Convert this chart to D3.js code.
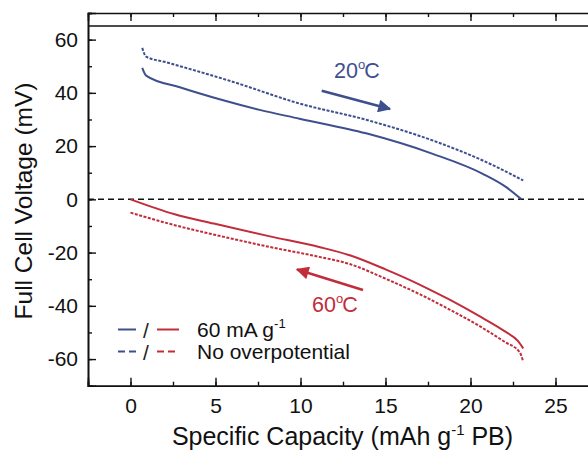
<!DOCTYPE html>
<html>
<head>
<meta charset="utf-8">
<script src="https://cdn.jsdelivr.net/npm/d3@7/dist/d3.min.js"></script>
<style>
  html, body { margin: 0; padding: 0; background: #fff; }
  svg { display: block; font-family: "Liberation Sans", Arial, sans-serif; }
</style>
</head>
<body>
<svg id="chart" width="588" height="452"></svg>
<script>
// Full-cell voltage vs. specific capacity at two temperatures
const xTicks = [0, 5, 10, 15, 20, 25];
const yTicks = [-60, -40, -20, 0, 20, 40, 60];

// 20 °C, 60 mA g-1
const blueMeasured = [[0.69, 49.4], [0.92, 46.5], [2.9, 42.1], [5.4, 37.3], [7.6, 33.6], [9.94, 30.3],
  [13.86, 24.8], [17.78, 17.1], [20.72, 9.6], [22.1, 4.6], [23.0, 0]];
// 20 °C, no overpotential
const blueIdeal = [[0.69, 56.9], [0.92, 53.6], [2.1, 51.5], [6.0, 44.2], [9.94, 36.0], [13.86, 29.9],
  [17.78, 22.1], [20.72, 14.6], [23.1, 7.1]];
// 60 °C, 60 mA g-1
const redMeasured = [[0, 0], [2.6, -5.6], [4.9, -9.1], [8.2, -13.9], [11.1, -17.9], [12.9, -21],
  [15, -26.3], [17, -32], [18.8, -37.8], [20.5, -43.8], [22, -49.5], [22.8, -53.3], [23.1, -56]];
// 60 °C, no overpotential
const redIdeal = [[0, -5], [2.6, -9.7], [5.5, -14.1], [8.2, -17.9], [11.1, -21.6], [12.9, -24.3],
  [15, -29.8], [17, -35.6], [18.8, -41.5], [20.5, -47.5], [22, -53.5], [22.9, -57.5], [23.1, -61]];

const BLUE = "#3e4f8e";
const RED = "#c22d3a";

const svg = d3.select("#chart");
const plotLeft = 88, plotTop = 13, plotBottom = 385.7;
const x = d3.scaleLinear().domain([-2.5, 27.5]).range([plotLeft, plotLeft + 30 * 17]);
const y = d3.scaleLinear().domain([-70, 70]).range([plotBottom, plotTop]);

const plot = svg.append("g");

// zero reference line
plot.append("line")
  .attr("x1", x(-2.5)).attr("x2", x(27.5))
  .attr("y1", y(0)).attr("y2", y(0))
  .attr("stroke", "#111").attr("stroke-width", 1.5)
  .attr("stroke-dasharray", "6,4");

const line = d3.line().x(d => x(d[0])).y(d => y(d[1])).curve(d3.curveMonotoneX);

const series = [
  { data: blueIdeal, color: BLUE, dash: "3,1.5" },
  { data: blueMeasured, color: BLUE, dash: null },
  { data: redIdeal, color: RED, dash: "3,1.5" },
  { data: redMeasured, color: RED, dash: null }
];
series.forEach(s => {
  plot.append("path")
    .attr("d", line(s.data))
    .attr("fill", "none")
    .attr("stroke", s.color)
    .attr("stroke-width", 2)
    .attr("stroke-dasharray", s.dash);
});

// axes: ticks pointing inward, mirrored on top
const tickFont = "21px";
const xMinor = d3.range(-2.5, 27.6, 2.5);
const yMinor = d3.range(-70, 71, 10);

const xb = svg.append("g").attr("transform", `translate(0,${plotBottom})`)
  .call(d3.axisBottom(x).tickValues(xMinor).tickSize(-4).tickFormat(""));
const xbMajor = svg.append("g").attr("transform", `translate(0,${plotBottom})`)
  .call(d3.axisBottom(x).tickValues(xTicks).tickSize(-8).tickPadding(12.5).tickFormat(d3.format("d")));
const xt = svg.append("g").attr("transform", `translate(0,${plotTop})`)
  .call(d3.axisTop(x).tickValues(xMinor).tickSize(-4).tickFormat(""));
const xtMajor = svg.append("g").attr("transform", `translate(0,${plotTop})`)
  .call(d3.axisTop(x).tickValues(xTicks).tickSize(-8).tickFormat(""));
const yl = svg.append("g").attr("transform", `translate(${plotLeft},0)`)
  .call(d3.axisLeft(y).tickValues(yMinor).tickSize(-4).tickFormat(""));
const ylMajor = svg.append("g").attr("transform", `translate(${plotLeft},0)`)
  .call(d3.axisLeft(y).tickValues(yTicks).tickSize(-8).tickPadding(10).tickFormat(d3.format("d")));

[xb, xbMajor, xt, xtMajor, yl, ylMajor].forEach(g => {
  g.selectAll(".domain").attr("stroke", "#111").attr("stroke-width", 1.6);
  g.selectAll(".tick line").attr("stroke", "#111").attr("stroke-width", 1.4);
  g.selectAll("text").attr("fill", "#111").style("font-size", tickFont)
    .style("font-family", "'Liberation Sans', Arial, sans-serif");
});
// plain hyphen for negative tick labels
ylMajor.selectAll("text").text(d => String(d));
xt.selectAll(".domain").attr("d", `M${plotLeft},${plotTop}H${x(27.5)}`);

// axis titles
const xTitle = svg.append("text")
  .attr("x", 342.5).attr("y", 445)
  .attr("text-anchor", "middle")
  .style("font-size", "25px").attr("fill", "#111");
xTitle.append("tspan").text("Specific Capacity (mAh g");
xTitle.append("tspan").text("-1").attr("dy", -10).style("font-size", "15px");
xTitle.append("tspan").text(" PB)").attr("dy", 10);

svg.append("text")
  .attr("transform", "translate(32,201) rotate(-90)")
  .attr("text-anchor", "middle")
  .style("font-size", "24.5px").attr("fill", "#111")
  .text("Full Cell Voltage (mV)");

// temperature labels with direction arrows
const defs = svg.append("defs");
[["arrowBlue", BLUE], ["arrowRed", RED]].forEach(([id, c]) => {
  defs.append("marker").attr("id", id)
    .attr("viewBox", "0 0 10 10").attr("refX", 9).attr("refY", 5)
    .attr("markerWidth", 6).attr("markerHeight", 5).attr("orient", "auto")
    .attr("markerUnits", "strokeWidth")
    .append("path").attr("d", "M0,0 L10,5 L0,10 Z").attr("fill", c);
});

function tempLabel(tx, ty, num, color) {
  const t = svg.append("text").attr("x", tx).attr("y", ty)
    .style("font-size", "21.5px").attr("fill", color);
  t.append("tspan").text(num);
  t.append("tspan").text("o").attr("dy", -9).style("font-size", "13px");
  t.append("tspan").text("C").attr("dy", 9).attr("dx", -1);
}
tempLabel(334, 78, "20", BLUE);
tempLabel(312, 312, "60", RED);

svg.append("line")
  .attr("x1", 321.7).attr("y1", 90.7).attr("x2", 390).attr("y2", 109)
  .attr("stroke", BLUE).attr("stroke-width", 2.6).attr("marker-end", "url(#arrowBlue)");
svg.append("line")
  .attr("x1", 363).attr("y1", 290).attr("x2", 297).attr("y2", 269.5)
  .attr("stroke", RED).attr("stroke-width", 2.6).attr("marker-end", "url(#arrowRed)");

// legend
const legendRows = [
  { dash: null, y: 329.5, label: "60 mA g", sup: "-1" },
  { dash: "7,4", y: 351.5, label: "No overpotential", sup: null }
];
legendRows.forEach(r => {
  svg.append("line").attr("x1", 118).attr("x2", 136).attr("y1", r.y).attr("y2", r.y)
    .attr("stroke", BLUE).attr("stroke-width", 2).attr("stroke-dasharray", r.dash);
  svg.append("text").attr("x", 146).attr("y", r.y + 8).attr("text-anchor", "middle")
    .style("font-size", "21px").attr("fill", "#222").text("/");
  svg.append("line").attr("x1", 157).attr("x2", 179).attr("y1", r.y).attr("y2", r.y)
    .attr("stroke", RED).attr("stroke-width", 2).attr("stroke-dasharray", r.dash);
  const t = svg.append("text").attr("x", 197).attr("y", r.y + 7.5)
    .style("font-size", "21px").attr("fill", "#111");
  t.append("tspan").text(r.label);
  if (r.sup) t.append("tspan").text(r.sup).attr("dy", -9).style("font-size", "13px");
});
</script>
</body>
</html>
